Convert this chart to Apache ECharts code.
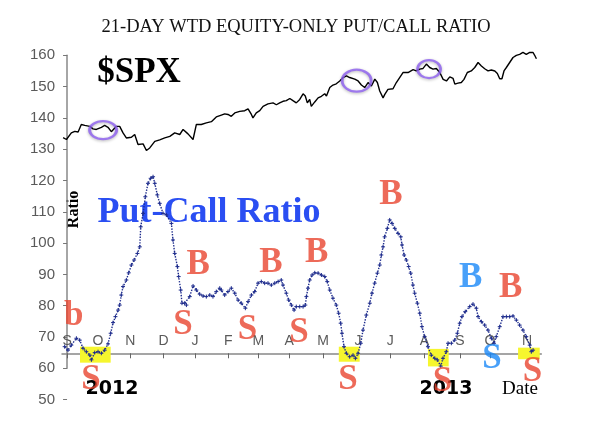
<!DOCTYPE html>
<html><head><meta charset="utf-8">
<script src="https://cdn.jsdelivr.net/npm/echarts@6/dist/echarts.min.js"></script>
<style>html,body{margin:0;padding:0;background:#fff}#c{width:596px;height:421px}</style>
</head><body><div id="c"></div>
<script>
// ---- data (x = trading-day index from 1 Sep 2012) ----
const spxDay = [-2.5,-0.4,2.7,4.9,7.0,9.0,11.2,14.4,16.4,18.5,21.7,23.8,25.9,28.0,31.2,33.3,35.4,37.5,40.7,42.8,44.9,48.1,50.2,52.3,55.5,58.6,61.8,65.0,68.1,71.3,73.4,76.5,79.7,81.8,84.9,88.1,91.3,94.4,97.6,99.7,101.8,103.9,106.1,109.2,112.4,114.5,116.6,117.6,119.7,121.9,124.0,127.1,130.3,132.4,134.5,136.6,138.7,140.9,142.9,145.0,147.2,149.3,150.7,152.0,153.5,154.5,156.7,158.8,160.9,163.0,164.1,166.2,168.2,170.3,172.5,174.6,176.7,178.8,182.0,184.1,186.2,188.3,190.4,192.5,194.7,196.3,197.8,199.9,201.0,203.0,206.2,208.3,210.4,212.5,215.7,218.9,220.9,223.1,225.2,227.3,229.4,231.5,233.6,235.8,237.9,240.0,242.1,244.2,245.3,247.3,249.4,251.1,253.2,255.7,257.9,260.0,262.1,264.2,266.3,268.4,270.6,272.2,273.7,275.1,276.4,277.9,280.0,282.1,284.2,286.3,288.4,290.5,292.7,294.8,295.8,296.9];
const spxValue = [133.7,133.1,135.2,135.7,135.5,137.9,137.6,137.3,136.5,136.3,137.0,137.6,137.0,135.6,137.3,137.3,135.2,133.6,133.8,134.7,131.5,131.7,129.6,130.4,132.5,133.0,133.6,134.1,135.2,134.7,136.3,134.9,133.1,137.9,137.9,138.4,138.8,140.3,140.9,141.3,141.1,140.5,141.6,142.1,142.3,142.9,141.1,140.0,141.6,142.3,143.7,144.5,144.8,144.2,144.8,145.3,145.5,146.2,145.5,144.8,145.9,147.7,147.0,144.8,145.9,143.7,145.1,146.4,146.9,147.7,147.0,149.7,150.5,150.9,151.8,152.9,153.4,152.9,152.4,151.8,150.5,149.7,151.3,150.2,152.4,151.3,148.6,146.4,147.5,149.1,149.3,151.3,152.9,154.5,154.5,155.4,155.0,155.6,155.8,157.2,156.1,155.6,155.8,154.5,152.3,151.8,153.1,152.6,150.8,151.1,151.3,152.3,154.5,155.0,156.1,157.7,156.6,155.7,155.0,155.3,155.0,154.2,152.5,152.5,155.0,156.1,157.7,159.3,160.0,160.3,160.9,160.3,160.9,160.9,160.0,158.9];
const pcDay = [-1.5,0.6,2.7,5.9,8.0,10.1,12.2,14.4,15.4,17.5,19.6,21.7,23.8,25.9,27.6,29.1,30.6,32.3,33.3,34.3,35.4,37.5,39.0,40.7,42.4,44.5,46.0,46.6,48.1,49.5,51.2,52.9,54.4,55.5,57.1,58.6,60.7,62.8,66.0,67.0,68.1,69.8,70.6,71.9,72.7,74.4,75.5,77.6,79.7,81.8,83.9,86.0,88.1,90.3,92.3,94.4,96.6,97.6,99.7,101.8,103.9,106.1,108.2,110.2,112.8,114.5,116.6,118.7,120.8,122.9,125.0,127.1,129.2,131.4,133.5,135.5,136.6,138.7,140.2,141.9,143.6,145.0,147.2,149.3,150.7,151.4,152.4,153.5,155.0,156.7,158.8,160.9,163.0,164.6,166.2,168.2,170.3,171.8,173.1,173.9,175.2,176.7,178.8,180.9,182.4,184.1,185.8,187.2,189.3,191.5,192.9,194.6,196.3,197.8,198.8,199.9,200.9,202.6,204.1,205.6,207.3,209.4,211.1,211.9,213.2,214.6,216.1,217.4,218.8,219.9,221.6,223.1,224.5,226.2,228.3,230.4,232.6,234.2,236.4,237.8,239.9,241.0,243.1,245.2,246.9,248.4,249.8,251.9,254.7,256.8,258.9,260.0,262.1,264.2,266.3,268.4,270.1,271.5,273.7,275.8,277.9,280.0,282.1,284.2,286.3,288.4,290.5,292.7,293.7,294.8];
const pcValue = [66.9,65.8,67.4,69.6,69.0,66.4,65.3,64.2,62.7,65.0,65.3,64.8,65.8,67.8,71.2,74.6,76.5,78.6,80.2,83.4,86.1,88.2,90.5,93.0,94.6,96.7,98.8,105.2,109.5,114.8,119.1,120.7,121.2,119.1,115.4,112.7,109.5,109.0,106.3,101.0,96.7,92.5,89.3,85.0,80.8,80.8,80.2,82.9,86.3,85.0,83.7,83.1,82.9,83.4,82.9,84.5,85.6,85.0,83.4,84.5,85.6,84.0,81.8,80.8,79.2,81.3,83.4,84.5,87.2,87.7,87.2,87.2,86.6,87.2,87.7,88.2,86.6,84.0,81.8,80.2,78.6,79.7,79.7,79.7,80.2,82.9,85.6,88.2,89.8,90.5,90.4,89.8,89.3,87.7,85.0,82.4,80.2,77.6,74.4,71.2,66.9,64.8,63.7,64.2,63.2,64.8,68.0,72.2,77.0,80.8,84.0,87.2,90.4,93.0,96.2,98.8,102.0,104.7,107.4,106.3,104.7,103.1,102.0,99.4,96.2,94.6,92.5,90.4,86.6,84.0,80.8,77.6,73.3,70.1,66.9,64.2,63.2,62.7,60.7,63.2,65.3,68.0,68.0,69.0,71.2,74.4,76.5,78.1,79.7,80.5,79.2,76.5,74.9,73.8,72.2,69.6,68.0,70.1,73.3,76.5,76.5,76.5,76.7,75.4,73.8,72.2,70.1,67.4,65.3,65.8];
const monthTicks = [0,19.5,40,61,81,102,121,140.5,162,184,204.5,226,248.5,267.5,291];
const monthLabels = ['S','O','N','D','J','F','M','A','M','J','J','A','S','O','N'];
// buy/sell signal annotations
const signalText  = ['b','S','S','B','S','B','S','B','S','B','S','B','S','B','S'];
const signalDay   = [4.3,15.1,73.4,82.9,114.2,129.0,146.7,157.9,177.7,204.8,237.5,255.4,268.8,280.7,294.4];
const signalValue = [76.8,56.3,73.8,93.0,72.2,93.8,71.4,97.0,56.3,115.4,55.5,88.8,63.0,85.6,58.7];
const signalBlue  = [false,false,false,false,false,false,false,false,false,false,false,true,true,false,false];
// highlighted low zones
const zoneStart = [8.2,171.9,228.3,285.3];
const zoneEnd   = [27.6,185.1,241.4,299.0];
const zoneLow   = [61.8,62.1,60.6,62.9];
const zoneHigh  = [66.9,66.9,66.2,66.6];
// circled SPX tops
const topDay   = [22.8,183.2,229.0];
const topValue = [136.1,151.9,155.6];
const topSize  = [[27,18],[29,22],[23,18]];

const zip = (a, b) => a.map((v, i) => [v, b[i]]);
const RED = '#e9452f', BLUE = '#1a88f7';

const chart = echarts.init(document.getElementById('c'), null, {renderer: 'canvas'});
const X = {type: 'value', min: -3.2, max: 300};
const option = {
  animation: false,
  grid: [
    {left: 62, right: 54.7, top: 55.3, bottom: 21.4},
    {left: 62, right: 54.7, top: 55.3, bottom: 52.7},
    {left: 62, right: 54.7, top: 55.3, bottom: 67.7}
  ],
  xAxis: [
    Object.assign({gridIndex: 0, show: false}, X),
    Object.assign({gridIndex: 1, show: false}, X),
    Object.assign({gridIndex: 2, position: 'bottom',
      axisLine: {show: true, lineStyle: {color: '#888', width: 1.5}},
      axisTick: {show: true, customValues: monthTicks, length: 5, lineStyle: {color: '#666', width: 1}},
      axisLabel: {show: true, inside: true, margin: 5, customValues: monthTicks,
        formatter: v => monthLabels[monthTicks.indexOf(v)],
        color: '#5a5a5a', fontFamily: 'Liberation Sans', fontSize: 14},
      splitLine: {show: false}}, X)
  ],
  yAxis: [
    {gridIndex: 0, type: 'value', min: 50, max: 160, interval: 10,
     axisLine: {show: false},
     axisTick: {show: true, length: 4, lineStyle: {color: '#777'}},
     axisLabel: {color: '#5a5a5a', fontFamily: 'Liberation Sans', fontSize: 15, margin: 7},
     splitLine: {show: false}},
    {gridIndex: 1, type: 'value', min: 60, max: 160,
     axisLine: {show: true, lineStyle: {color: '#888', width: 1.5}},
     axisTick: {show: false}, axisLabel: {show: false}, splitLine: {show: false}},
    {gridIndex: 2, type: 'value', min: 60, max: 160, show: false}
  ],
  series: [
    {type: 'line', xAxisIndex: 0, yAxisIndex: 0, z: 1, data: [], silent: true,
     markArea: {silent: true, itemStyle: {color: '#f6f62e'},
       data: zoneStart.map((s, i) => [{coord: [s, zoneHigh[i]]}, {coord: [zoneEnd[i], zoneLow[i]]}])}},
    {type: 'line', name: 'SPX', xAxisIndex: 0, yAxisIndex: 0, z: 3, clip: false,
     data: zip(spxDay, spxValue), showSymbol: false, symbol: 'none',
     lineStyle: {color: '#000', width: 1.4}},
    {type: 'line', name: 'Put/Call', xAxisIndex: 0, yAxisIndex: 0, z: 3, clip: false,
     data: zip(pcDay, pcValue), symbol: 'path://M0 4H8M4 0V8', symbolSize: 4,
     itemStyle: {color: '#1d2b8c', borderColor: '#1d2b8c', borderWidth: 1},
     lineStyle: {color: '#1d2b8c', width: 1.4, type: 'dotted'}},
    {type: 'scatter', xAxisIndex: 0, yAxisIndex: 0, z: 4, silent: true,
     data: zip(topDay, topValue),
     symbol: 'circle', symbolSize: (v, p) => topSize[p.dataIndex],
     itemStyle: {color: 'rgba(0,0,0,0)', borderColor: '#8d5ff0', borderWidth: 2.5,
       shadowBlur: 3, shadowColor: 'rgba(0,0,0,0.35)', shadowOffsetY: 1}},
    {type: 'scatter', xAxisIndex: 0, yAxisIndex: 0, z: 5, silent: true,
     symbolSize: 1, itemStyle: {color: 'rgba(0,0,0,0)'},
     data: signalText.map((t, i) => ({name: t, value: [signalDay[i], signalValue[i]],
       label: {color: signalBlue[i] ? BLUE : RED}})),
     label: {show: true, position: 'inside', formatter: p => p.name,
       fontFamily: 'Liberation Serif', fontWeight: 'bold', fontSize: 35}}
  ],
  graphic: [
    {type: 'text', x: 296, y: 27, style: {text: '21-DAY WTD EQUITY-ONLY PUT/CALL RATIO',
      fill: '#111', fontFamily: 'Liberation Serif', fontSize: 18.5, align: 'center', verticalAlign: 'middle'}},
    {type: 'text', x: 139, y: 73, style: {text: '$SPX', fill: '#000',
      fontFamily: 'Liberation Serif', fontWeight: 'bold', fontSize: 35, align: 'center', verticalAlign: 'middle'}},
    {type: 'text', x: 209, y: 213, style: {text: 'Put-Call Ratio', fill: '#2a4ef2',
      fontFamily: 'Liberation Serif', fontWeight: 'bold', fontSize: 36, align: 'center', verticalAlign: 'middle'}},
    {type: 'text', x: 74, y: 209.5, rotation: Math.PI / 2, style: {text: 'Ratio', fill: '#000',
      fontFamily: 'Liberation Serif', fontWeight: 'bold', fontSize: 16, align: 'center', verticalAlign: 'middle'}},
    {type: 'text', x: 112, y: 389.5, style: {text: '2012', fill: '#000',
      fontFamily: 'DejaVu Sans', fontWeight: 'bold', fontSize: 19, align: 'center', verticalAlign: 'middle'}},
    {type: 'text', x: 446, y: 389, style: {text: '2013', fill: '#000',
      fontFamily: 'DejaVu Sans', fontWeight: 'bold', fontSize: 19, align: 'center', verticalAlign: 'middle'}},
    {type: 'text', x: 520, y: 389, style: {text: 'Date', fill: '#000',
      fontFamily: 'Liberation Serif', fontSize: 19, align: 'center', verticalAlign: 'middle'}}
  ]
};
chart.setOption(option);
</script>
</body></html>
